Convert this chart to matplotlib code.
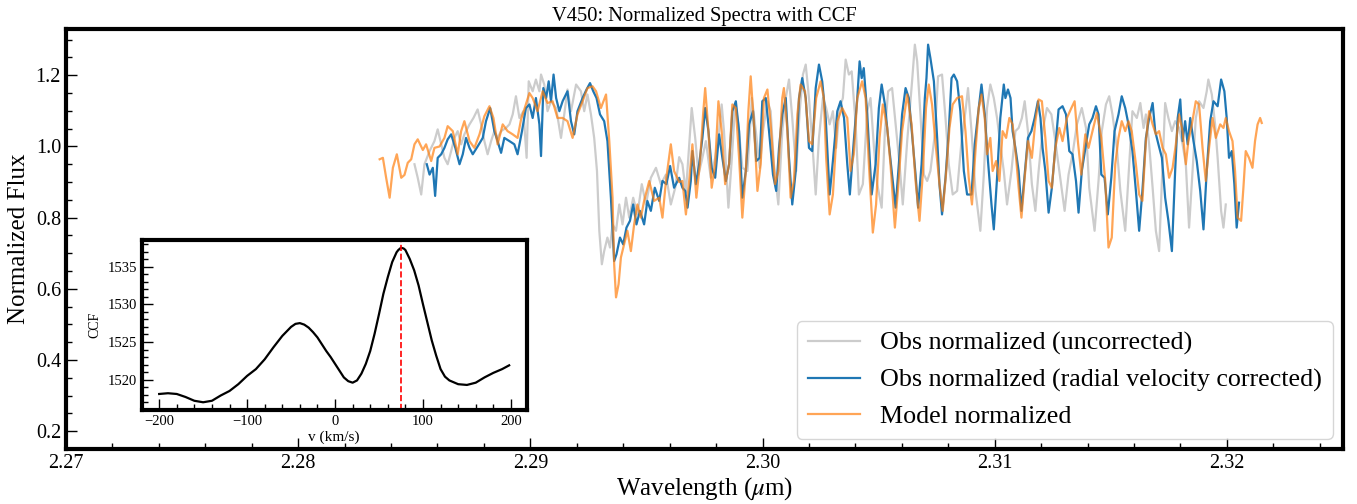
"""
plot.py
V450 normalized spectra with CCF inset.
"""

import numpy as np
import matplotlib
matplotlib.use("Agg")
import matplotlib.pyplot as plt
from matplotlib.ticker import MultipleLocator, FormatStrFormatter

plt.rcParams["font.family"] = ["Liberation Serif", "DejaVu Serif"]
plt.rcParams["mathtext.fontset"] = "stix"

# (wavelength um, flux)
uncorr_pts = [
    (2.28501, 0.950), (2.28515, 0.912), (2.28530, 0.865), (2.28544, 0.950), (2.28566, 0.987),
    (2.28587, 1.015), (2.28601, 1.048), (2.28616, 1.006), (2.28630, 0.968), (2.28644, 0.950),
    (2.28659, 0.987), (2.28673, 1.024), (2.28687, 1.043), (2.28702, 1.006), (2.28716, 1.034),
    (2.28738, 1.062), (2.28755, 1.080), (2.28773, 1.104), (2.28788, 1.062), (2.28802, 1.015),
    (2.28816, 0.978), (2.28831, 1.015), (2.28845, 1.043), (2.28859, 1.024), (2.28874, 1.043),
    (2.28895, 1.052), (2.28910, 1.062), (2.28924, 1.090), (2.28938, 1.141), (2.28953, 1.080),
    (2.28970, 1.099), (2.28984, 0.968), (2.28993, 1.183), (2.29010, 1.155), (2.29024, 1.188),
    (2.29039, 1.155), (2.29046, 1.202), (2.29060, 1.174), (2.29074, 1.099), (2.29089, 1.127),
    (2.29111, 1.108), (2.29132, 1.024), (2.29146, 1.090), (2.29160, 1.160), (2.29175, 1.099),
    (2.29197, 1.174), (2.29218, 1.155), (2.29232, 1.099), (2.29246, 1.146), (2.29261, 1.090),
    (2.29275, 1.024), (2.29287, 0.931), (2.29297, 0.763), (2.29308, 0.669), (2.29318, 0.706),
    (2.29332, 0.744), (2.29343, 0.716), (2.29354, 0.781), (2.29369, 0.763), (2.29383, 0.837),
    (2.29397, 0.781), (2.29412, 0.856), (2.29426, 0.800), (2.29443, 0.856), (2.29461, 0.809),
    (2.29480, 0.894), (2.29498, 0.837), (2.29519, 0.912), (2.29541, 0.940), (2.29562, 0.894),
    (2.29584, 0.921), (2.29605, 0.837), (2.29624, 0.884), (2.29641, 0.970), (2.29655, 0.950),
    (2.29670, 0.870), (2.29695, 1.108), (2.29710, 1.024), (2.29724, 0.921), (2.29738, 0.959),
    (2.29756, 1.015), (2.29777, 0.912), (2.29796, 0.968), (2.29813, 1.043), (2.29824, 1.118),
    (2.29834, 1.043), (2.29853, 0.828), (2.29868, 0.968), (2.29882, 1.118), (2.29896, 1.062),
    (2.29913, 0.940), (2.29935, 0.931), (2.29954, 1.136), (2.29971, 1.043), (2.29988, 0.940),
    (2.30002, 1.043), (2.30021, 1.127), (2.30035, 1.099), (2.30049, 0.950), (2.30068, 0.837),
    (2.30085, 1.043), (2.30100, 1.136), (2.30114, 1.188), (2.30128, 1.080), (2.30145, 0.931),
    (2.30160, 1.099), (2.30174, 1.202), (2.30186, 1.230), (2.30200, 1.136), (2.30214, 1.015),
    (2.30229, 0.865), (2.30243, 1.024), (2.30260, 1.136), (2.30274, 1.108), (2.30289, 1.062),
    (2.30303, 1.099), (2.30317, 0.996), (2.30332, 1.108), (2.30346, 1.136), (2.30358, 1.244),
    (2.30372, 1.202), (2.30384, 1.211), (2.30401, 1.062), (2.30415, 0.865), (2.30432, 0.894),
    (2.30451, 1.099), (2.30465, 1.136), (2.30480, 0.996), (2.30494, 0.894), (2.30513, 0.828),
    (2.30527, 1.043), (2.30541, 1.155), (2.30558, 1.164), (2.30576, 1.043), (2.30590, 0.950),
    (2.30604, 0.837), (2.30623, 1.015), (2.30644, 1.183), (2.30656, 1.286), (2.30666, 1.239),
    (2.30680, 1.090), (2.30695, 0.921), (2.30709, 0.903), (2.30723, 0.931), (2.30742, 1.034),
    (2.30756, 1.197), (2.30773, 1.202), (2.30788, 1.080), (2.30802, 0.950), (2.30819, 0.865),
    (2.30838, 0.875), (2.30857, 1.015), (2.30874, 1.099), (2.30885, 1.164), (2.30900, 1.043),
    (2.30917, 0.875), (2.30938, 0.763), (2.30953, 0.921), (2.30967, 1.108), (2.30981, 1.174),
    (2.30996, 1.136), (2.31010, 1.080), (2.31024, 1.006), (2.31039, 0.931), (2.31053, 0.837),
    (2.31072, 0.931), (2.31089, 1.043), (2.31103, 1.052), (2.31117, 1.080), (2.31129, 1.127),
    (2.31143, 1.043), (2.31160, 0.894), (2.31175, 0.819), (2.31189, 0.931), (2.31206, 1.043),
    (2.31225, 1.108), (2.31244, 1.090), (2.31261, 1.015), (2.31278, 0.931), (2.31301, 0.819),
    (2.31318, 0.921), (2.31335, 0.978), (2.31354, 1.062), (2.31375, 1.108), (2.31393, 1.052),
    (2.31407, 0.884), (2.31430, 0.763), (2.31447, 0.903), (2.31461, 1.043), (2.31479, 1.118),
    (2.31493, 1.141), (2.31507, 1.090), (2.31526, 0.996), (2.31541, 0.875), (2.31562, 0.763),
    (2.31579, 0.950), (2.31593, 1.099), (2.31612, 1.080), (2.31627, 1.122), (2.31641, 1.052),
    (2.31651, 1.090), (2.31665, 1.006), (2.31680, 0.884), (2.31694, 0.763), (2.31708, 0.706),
    (2.31720, 0.903), (2.31734, 1.122), (2.31748, 1.080), (2.31763, 1.043), (2.31777, 1.071),
    (2.31794, 1.052), (2.31809, 1.006), (2.31823, 0.950), (2.31837, 0.772), (2.31852, 0.931),
    (2.31866, 1.080), (2.31880, 1.127), (2.31899, 1.108), (2.31913, 1.155), (2.31920, 1.188),
    (2.31935, 1.146), (2.31949, 1.062), (2.31960, 0.968), (2.31975, 0.819), (2.31985, 0.772),
    (2.31995, 0.837),
]

corr_pts = [
    (2.28554, 0.950), (2.28566, 0.921), (2.28580, 0.940), (2.28590, 0.861), (2.28601, 0.968),
    (2.28616, 0.978), (2.28630, 0.996), (2.28644, 1.020), (2.28659, 1.034), (2.28677, 0.996),
    (2.28695, 0.950), (2.28709, 0.978), (2.28723, 1.024), (2.28738, 0.996), (2.28752, 0.978),
    (2.28773, 1.000), (2.28795, 1.024), (2.28809, 1.071), (2.28827, 1.108), (2.28845, 1.043),
    (2.28859, 1.015), (2.28874, 0.982), (2.28888, 1.024), (2.28910, 1.015), (2.28931, 1.006),
    (2.28945, 0.978), (2.28964, 1.043), (2.28981, 1.108), (2.28996, 1.118), (2.29010, 1.080),
    (2.29024, 1.136), (2.29039, 1.062), (2.29046, 0.973), (2.29056, 1.164), (2.29068, 1.136),
    (2.29079, 1.183), (2.29089, 1.127), (2.29100, 1.202), (2.29111, 1.136), (2.29125, 1.099),
    (2.29139, 1.127), (2.29160, 1.155), (2.29175, 1.071), (2.29189, 1.034), (2.29203, 1.099),
    (2.29225, 1.136), (2.29242, 1.160), (2.29257, 1.178), (2.29271, 1.155), (2.29285, 1.136),
    (2.29300, 1.090), (2.29318, 1.071), (2.29332, 1.015), (2.29347, 0.856), (2.29361, 0.678),
    (2.29371, 0.697), (2.29386, 0.744), (2.29400, 0.725), (2.29414, 0.772), (2.29429, 0.791),
    (2.29443, 0.837), (2.29457, 0.781), (2.29472, 0.819), (2.29490, 0.781), (2.29504, 0.847),
    (2.29519, 0.819), (2.29536, 0.884), (2.29555, 0.847), (2.29569, 0.903), (2.29586, 0.894),
    (2.29602, 0.945), (2.29619, 0.884), (2.29641, 0.912), (2.29655, 0.884), (2.29667, 0.875),
    (2.29677, 0.828), (2.29691, 0.903), (2.29698, 0.987), (2.29713, 0.894), (2.29727, 0.950),
    (2.29741, 1.024), (2.29753, 1.108), (2.29767, 1.043), (2.29781, 0.940), (2.29796, 0.912),
    (2.29813, 1.034), (2.29827, 0.968), (2.29842, 0.903), (2.29856, 0.950), (2.29870, 1.099),
    (2.29885, 1.127), (2.29899, 1.043), (2.29913, 0.856), (2.29928, 0.931), (2.29942, 1.062),
    (2.29959, 1.099), (2.29973, 0.959), (2.29988, 0.968), (2.29999, 1.127), (2.30014, 1.136),
    (2.30028, 1.043), (2.30045, 0.921), (2.30059, 0.875), (2.30071, 0.996), (2.30085, 1.090),
    (2.30100, 1.136), (2.30114, 0.968), (2.30128, 0.837), (2.30143, 0.931), (2.30157, 1.136),
    (2.30171, 1.192), (2.30186, 1.136), (2.30200, 0.996), (2.30214, 0.987), (2.30229, 1.164),
    (2.30243, 1.230), (2.30257, 1.183), (2.30272, 1.080), (2.30289, 0.865), (2.30303, 0.959),
    (2.30322, 1.099), (2.30336, 1.127), (2.30351, 1.080), (2.30365, 0.950), (2.30376, 0.865),
    (2.30393, 1.015), (2.30408, 1.136), (2.30418, 1.239), (2.30427, 1.192), (2.30436, 1.220),
    (2.30451, 1.090), (2.30470, 0.865), (2.30487, 0.950), (2.30501, 1.108), (2.30513, 1.174),
    (2.30527, 1.118), (2.30541, 1.024), (2.30556, 0.931), (2.30573, 0.828), (2.30587, 0.950),
    (2.30601, 1.090), (2.30616, 1.164), (2.30630, 1.136), (2.30644, 1.034), (2.30659, 0.921),
    (2.30670, 0.828), (2.30685, 0.950), (2.30699, 1.136), (2.30706, 1.192), (2.30713, 1.286),
    (2.30723, 1.248), (2.30738, 1.183), (2.30752, 1.024), (2.30762, 0.894), (2.30773, 0.809),
    (2.30788, 0.912), (2.30802, 1.043), (2.30814, 1.192), (2.30824, 1.202), (2.30838, 1.183),
    (2.30852, 1.099), (2.30867, 0.931), (2.30881, 0.865), (2.30900, 0.865), (2.30914, 1.006),
    (2.30928, 1.090), (2.30943, 1.174), (2.30957, 1.090), (2.30971, 0.959), (2.30986, 0.837),
    (2.30996, 0.767), (2.31010, 0.912), (2.31024, 1.080), (2.31039, 1.174), (2.31046, 1.136),
    (2.31057, 1.160), (2.31068, 1.136), (2.31077, 1.043), (2.31089, 0.996), (2.31103, 0.931),
    (2.31115, 0.819), (2.31129, 0.921), (2.31143, 1.024), (2.31158, 1.043), (2.31172, 1.080),
    (2.31186, 1.127), (2.31197, 1.080), (2.31206, 0.996), (2.31218, 0.931), (2.31232, 0.814),
    (2.31246, 0.884), (2.31261, 0.996), (2.31275, 1.104), (2.31292, 1.113), (2.31307, 1.090),
    (2.31321, 0.987), (2.31335, 0.978), (2.31350, 0.903), (2.31361, 0.814), (2.31375, 0.931),
    (2.31393, 1.006), (2.31407, 1.062), (2.31421, 1.080), (2.31436, 1.113), (2.31447, 1.090),
    (2.31459, 0.921), (2.31473, 0.912), (2.31487, 0.809), (2.31502, 0.912), (2.31516, 1.043),
    (2.31533, 1.090), (2.31547, 1.141), (2.31562, 1.108), (2.31576, 1.062), (2.31593, 0.987),
    (2.31608, 0.875), (2.31622, 0.763), (2.31636, 0.875), (2.31651, 1.024), (2.31665, 1.080),
    (2.31680, 1.122), (2.31691, 1.043), (2.31705, 1.006), (2.31720, 0.968), (2.31734, 0.856),
    (2.31748, 0.791), (2.31763, 0.706), (2.31777, 0.931), (2.31788, 1.080), (2.31799, 1.132),
    (2.31809, 1.015), (2.31820, 1.071), (2.31831, 1.006), (2.31842, 1.080), (2.31856, 1.015),
    (2.31870, 0.959), (2.31885, 0.875), (2.31899, 0.767), (2.31913, 0.931), (2.31928, 1.071),
    (2.31942, 1.127), (2.31960, 1.113), (2.31975, 1.188), (2.31989, 1.155), (2.31999, 1.080),
    (2.32009, 0.968), (2.32021, 0.987), (2.32032, 0.894), (2.32042, 0.772), (2.32052, 0.842),
]

model_pts = [
    (2.28351, 0.964), (2.28365, 0.968), (2.28379, 0.912), (2.28394, 0.856), (2.28408, 0.940),
    (2.28425, 0.978), (2.28444, 0.912), (2.28458, 0.920), (2.28472, 0.954), (2.28487, 0.964),
    (2.28501, 1.006), (2.28515, 1.020), (2.28537, 0.990), (2.28551, 1.006), (2.28573, 0.959),
    (2.28587, 0.996), (2.28609, 1.000), (2.28630, 1.024), (2.28644, 1.057), (2.28666, 1.043),
    (2.28687, 0.978), (2.28702, 1.043), (2.28716, 1.071), (2.28738, 1.015), (2.28759, 0.996),
    (2.28781, 1.034), (2.28802, 1.085), (2.28824, 1.113), (2.28841, 1.080), (2.28859, 1.006),
    (2.28881, 1.062), (2.28902, 1.043), (2.28924, 1.034), (2.28945, 1.024), (2.28960, 1.076),
    (2.28974, 1.104), (2.28996, 1.150), (2.29010, 1.136), (2.29031, 1.099), (2.29053, 1.155),
    (2.29074, 1.122), (2.29096, 1.127), (2.29117, 1.080), (2.29139, 1.080), (2.29160, 1.071),
    (2.29182, 1.024), (2.29203, 1.090), (2.29225, 1.127), (2.29246, 1.164), (2.29268, 1.169),
    (2.29283, 1.155), (2.29304, 1.108), (2.29326, 1.146), (2.29340, 1.015), (2.29354, 0.856),
    (2.29361, 0.669), (2.29369, 0.576), (2.29380, 0.613), (2.29390, 0.688), (2.29404, 0.725),
    (2.29418, 0.763), (2.29433, 0.706), (2.29447, 0.781), (2.29461, 0.837), (2.29476, 0.800),
    (2.29490, 0.847), (2.29512, 0.903), (2.29533, 0.847), (2.29555, 0.856), (2.29569, 0.800),
    (2.29584, 0.903), (2.29605, 1.006), (2.29619, 0.931), (2.29641, 0.900), (2.29655, 0.903),
    (2.29670, 0.809), (2.29684, 0.903), (2.29698, 1.006), (2.29715, 0.856), (2.29730, 0.950),
    (2.29744, 1.090), (2.29753, 1.164), (2.29767, 1.043), (2.29781, 0.884), (2.29796, 0.950),
    (2.29810, 1.127), (2.29824, 1.043), (2.29839, 0.894), (2.29856, 0.950), (2.29870, 1.118),
    (2.29885, 1.108), (2.29899, 0.968), (2.29913, 0.800), (2.29928, 0.931), (2.29939, 1.099),
    (2.29949, 1.197), (2.29963, 1.062), (2.29978, 0.875), (2.29992, 0.950), (2.30006, 1.136),
    (2.30021, 1.160), (2.30035, 1.062), (2.30054, 0.894), (2.30068, 0.931), (2.30085, 1.136),
    (2.30092, 1.164), (2.30107, 1.043), (2.30121, 0.856), (2.30135, 0.903), (2.30150, 1.090),
    (2.30164, 1.174), (2.30183, 1.155), (2.30200, 1.015), (2.30214, 1.006), (2.30231, 1.136),
    (2.30250, 1.183), (2.30264, 1.136), (2.30274, 0.968), (2.30289, 0.809), (2.30303, 0.865),
    (2.30322, 1.071), (2.30343, 1.108), (2.30365, 1.080), (2.30379, 0.931), (2.30393, 0.978),
    (2.30408, 1.136), (2.30429, 1.183), (2.30444, 1.136), (2.30458, 0.950), (2.30475, 0.758),
    (2.30489, 0.837), (2.30504, 1.024), (2.30518, 1.118), (2.30537, 1.052), (2.30551, 0.950),
    (2.30570, 0.772), (2.30584, 0.884), (2.30601, 1.043), (2.30623, 1.146), (2.30642, 1.062),
    (2.30659, 0.903), (2.30676, 0.791), (2.30690, 0.921), (2.30704, 1.108), (2.30716, 1.174),
    (2.30730, 1.118), (2.30747, 0.996), (2.30762, 0.894), (2.30776, 0.819), (2.30790, 0.921),
    (2.30805, 1.052), (2.30819, 1.118), (2.30838, 1.136), (2.30859, 1.141), (2.30874, 1.043),
    (2.30888, 0.912), (2.30902, 0.837), (2.30917, 0.987), (2.30931, 1.108), (2.30943, 1.146),
    (2.30957, 1.080), (2.30967, 0.978), (2.30981, 1.024), (2.30991, 0.931), (2.31006, 0.959),
    (2.31020, 0.903), (2.31034, 1.043), (2.31049, 1.024), (2.31063, 1.080), (2.31077, 1.062),
    (2.31092, 0.968), (2.31103, 0.884), (2.31115, 0.800), (2.31129, 0.912), (2.31143, 1.015),
    (2.31160, 0.968), (2.31175, 1.071), (2.31189, 1.132), (2.31203, 1.127), (2.31218, 1.024),
    (2.31232, 0.903), (2.31246, 0.884), (2.31261, 0.996), (2.31278, 1.052), (2.31292, 1.015),
    (2.31311, 1.080), (2.31330, 1.108), (2.31344, 1.127), (2.31358, 1.015), (2.31373, 0.921),
    (2.31390, 1.034), (2.31404, 0.996), (2.31421, 1.043), (2.31440, 1.094), (2.31459, 1.024),
    (2.31476, 0.903), (2.31490, 0.716), (2.31504, 0.744), (2.31519, 0.950), (2.31533, 1.024),
    (2.31547, 1.071), (2.31562, 1.043), (2.31576, 1.071), (2.31590, 1.043), (2.31608, 0.950),
    (2.31622, 0.865), (2.31636, 0.847), (2.31651, 1.015), (2.31665, 1.099), (2.31680, 1.062),
    (2.31694, 1.034), (2.31708, 1.043), (2.31723, 0.996), (2.31737, 0.978), (2.31751, 0.912),
    (2.31766, 0.940), (2.31780, 1.006), (2.31794, 1.090), (2.31809, 1.043), (2.31823, 0.950),
    (2.31834, 1.015), (2.31849, 1.062), (2.31866, 1.127), (2.31880, 1.118), (2.31895, 0.996),
    (2.31909, 0.903), (2.31923, 0.996), (2.31938, 1.080), (2.31952, 1.024), (2.31971, 1.062),
    (2.31985, 1.052), (2.31995, 1.080), (2.32009, 1.043), (2.32024, 1.015), (2.32035, 0.931),
    (2.32046, 0.800), (2.32061, 0.791), (2.32071, 0.884), (2.32081, 0.987), (2.32095, 0.968),
    (2.32110, 0.940), (2.32121, 1.015), (2.32132, 1.062), (2.32143, 1.080), (2.32150, 1.066),
]

# cross-correlation function
ccf_v = [-200, -190, -180, -170, -160, -150, -140, -130, -120, -110, -100,
         -90, -80, -70, -60, -50, -45, -40, -35, -30, -25, -20, -15, -10, -5, 0,
         5, 10, 15, 20, 25, 30, 35, 40, 45, 50, 55, 60, 65, 70, 72, 75, 78, 80,
         85, 90, 95, 100, 105, 110, 115, 120, 125, 130, 140, 150, 160, 170, 180, 190, 198]
ccf_val = [1518.1, 1518.2, 1518.1, 1517.7, 1517.2, 1517.0, 1517.2, 1517.9, 1518.5, 1519.4, 1520.5,
           1521.4, 1522.7, 1524.3, 1525.8, 1527.0, 1527.4, 1527.5, 1527.3, 1526.9, 1526.3,
           1525.6, 1524.7, 1523.8, 1523.0, 1522.1,
           1521.2, 1520.3, 1519.8, 1519.6, 1519.9, 1520.8, 1522.1, 1523.8, 1526.1, 1528.7,
           1531.4, 1533.6, 1535.6, 1536.9, 1537.2, 1537.5, 1537.4, 1537.2,
           1536.0, 1534.5, 1532.5, 1530.0, 1527.6, 1525.2, 1523.2, 1521.4, 1520.4, 1519.9,
           1519.4, 1519.3, 1519.6, 1520.3, 1520.9, 1521.4, 1521.9]
rv_peak = 75

wl_uncorr, flux_uncorr = np.array(uncorr_pts).T
wl_corr, flux_corr = np.array(corr_pts).T
wl_model, flux_model = np.array(model_pts).T

fig = plt.figure(figsize=(13.57, 5.04), dpi=100)
ax = fig.add_axes([0.0486, 0.1091, 0.9411, 0.8334])

ax.plot(wl_uncorr, flux_uncorr, color="gray", alpha=0.4, lw=1.6,
        label="Obs normalized (uncorrected)")
ax.plot(wl_corr, flux_corr, color="C0", lw=1.6,
        label="Obs normalized (radial velocity corrected)")
ax.plot(wl_model, flux_model, color="C1", alpha=0.7, lw=1.6,
        label="Model normalized")

ax.set_xlim(2.27, 2.325)
ax.set_ylim(0.15, 1.33)
ax.xaxis.set_major_locator(MultipleLocator(0.01))
ax.xaxis.set_minor_locator(MultipleLocator(0.002))
ax.xaxis.set_major_formatter(FormatStrFormatter("%.2f"))
ax.yaxis.set_major_locator(MultipleLocator(0.2))
ax.yaxis.set_minor_locator(MultipleLocator(0.05))
ax.yaxis.set_major_formatter(FormatStrFormatter("%.1f"))
ax.tick_params(which="both", direction="in", labelsize=14.5)
ax.tick_params(which="major", length=8, width=1)
ax.tick_params(which="minor", length=4, width=1)
for sp in ax.spines.values():
    sp.set_linewidth(3)

ax.set_xlabel(r"Wavelength ($\mu$m)", fontsize=18, labelpad=2)
ax.set_ylabel("Normalized Flux", fontsize=18)
ax.set_title("V450: Normalized Spectra with CCF", fontsize=14.8)
ax.legend(loc="lower right", fontsize=18.7, borderaxespad=0.4)

# CCF inset
axin = fig.add_axes([0.1044, 0.1865, 0.2837, 0.3373])
axin.plot(ccf_v, ccf_val, color="black", lw=1.6)
axin.axvline(rv_peak, color="red", ls="--", lw=1.2)
axin.xaxis.set_major_locator(MultipleLocator(100))
axin.xaxis.set_minor_locator(MultipleLocator(20))
axin.yaxis.set_major_locator(MultipleLocator(5))
axin.yaxis.set_minor_locator(MultipleLocator(1))
axin.tick_params(which="both", direction="in", labelsize=10.5)
axin.tick_params(which="major", length=8, width=1)
axin.tick_params(which="minor", length=4, width=1)
for sp in axin.spines.values():
    sp.set_linewidth(3)
axin.set_xlabel("v (km/s)", fontsize=11, labelpad=2)
axin.set_ylabel("CCF", fontsize=10)

fig.savefig("out.png", dpi=100)
